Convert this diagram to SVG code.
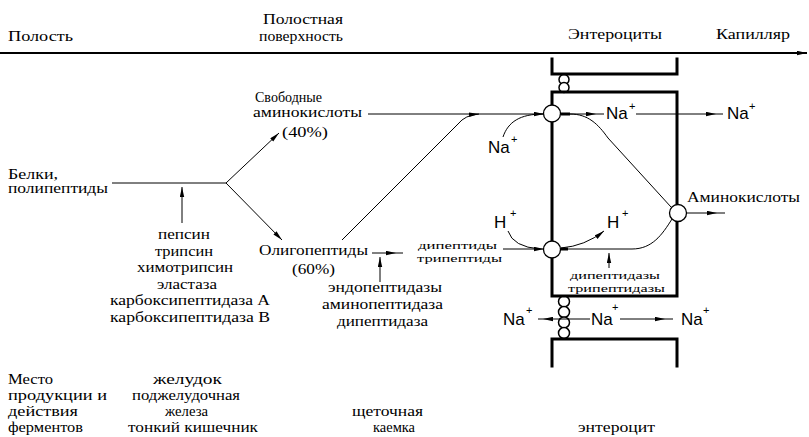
<svg xmlns="http://www.w3.org/2000/svg" width="809" height="437" viewBox="0 0 809 437">
<style>
text{font-family:"Liberation Serif","Times New Roman",serif;font-size:15px;fill:#000}
.sm{font-size:11px}
.m14{font-size:14px}
.ion{font-family:"Liberation Sans",Arial,sans-serif;font-size:17px}
.sup{font-family:"Liberation Sans",Arial,sans-serif;font-size:11px}
.ln{fill:none;stroke:#000;stroke-width:1}
.thick{fill:none;stroke:#000;stroke-width:3}
.wall{fill:none;stroke:#000;stroke-width:3;stroke-linecap:square}
.tj{fill:#fff;stroke:#000;stroke-width:1.5}
.tr{fill:#fff;stroke:#000;stroke-width:1.3}
</style>
<defs>
<marker id="ah" viewBox="0 0 10 5" refX="10" refY="2.5" markerWidth="10" markerHeight="5" markerUnits="userSpaceOnUse" orient="auto">
<path d="M0,0.3 L10,2.5 L0,4.7 z" fill="#000"/>
</marker>
</defs>
<rect width="809" height="437" fill="#fff"/>

<g id="header">
<text x="8" y="41" textLength="65" lengthAdjust="spacingAndGlyphs">Полость</text>
<text x="263" y="24" textLength="80" lengthAdjust="spacingAndGlyphs">Полостная</text>
<text x="259" y="41" textLength="84" lengthAdjust="spacingAndGlyphs">поверхность</text>
<text x="568" y="39" textLength="94" lengthAdjust="spacingAndGlyphs">Энтероциты</text>
<text x="716" y="39" textLength="74" lengthAdjust="spacingAndGlyphs">Капилляр</text>
</g>

<g id="enterocytes">
<circle class="tj" cx="564" cy="79.5" r="5"/>
<circle class="tj" cx="564" cy="87.5" r="5"/>
<circle class="tj" cx="564" cy="301.5" r="5.5"/>
<circle class="tj" cx="564" cy="312" r="5.5"/>
<circle class="tj" cx="564" cy="322.5" r="5.5"/>
<circle class="tj" cx="564" cy="333" r="5.5"/>
<path class="wall" d="M552,59 L552,74 L677,74 L677,59"/>
<path class="wall" d="M552,92 L677,92 L677,296 L552,296 Z"/>
<path class="wall" d="M552,366 L552,339 L677,339 L677,366"/>
</g>

<g id="connectors">
<path class="ln" d="M0,53 L807,53" style="stroke-width:2" marker-end="url(#ah)"/>
<path class="ln" d="M112,183 L226,183"/>
<path class="ln" d="M226,183 L279,133" marker-end="url(#ah)"/>
<path class="ln" d="M226,183 L282,240" marker-end="url(#ah)"/>
<path class="ln" d="M182,223 L182,187" marker-end="url(#ah)"/>
<path class="ln" d="M368,114 L544,114" marker-end="url(#ah)"/>
<path class="ln" d="M342,240 L458,124 Q465,115 479,114" marker-end="url(#ah)"/>
<path class="ln" d="M503,137 C508,122 520,114 543,114"/>
<path class="thick" d="M561,114 L570,114"/>
<path class="ln" d="M561,114 L596,114" marker-end="url(#ah)"/>
<path class="ln" d="M596,114 L604,114"/>
<path class="ln" d="M636,114 L716,114" marker-end="url(#ah)"/>
<path class="ln" d="M716,114 L723,114"/>
<path class="ln" d="M570,114 C588,114 598,124 608,138 L671,207"/>
<path class="ln" d="M686,213 L717,213" marker-end="url(#ah)"/>
<path class="ln" d="M717,213 L725,213"/>
<path class="ln" d="M372,253 L396,253" marker-end="url(#ah)"/>
<path class="ln" d="M396,253 L403,253"/>
<path class="ln" d="M380,282 L380,257" marker-end="url(#ah)"/>
<path class="ln" d="M503,249 L544,249" marker-end="url(#ah)"/>
<path class="ln" d="M508,231 Q513,247 540,249"/>
<path class="thick" d="M561,249 L568,249"/>
<path class="ln" d="M561,248 Q585,246 604,231" marker-end="url(#ah)"/>
<path class="ln" d="M561,249 L632,249 C652,249 662,235 672,219"/>
<path class="ln" d="M609,268 L609,253" marker-end="url(#ah)"/>
<path class="ln" d="M590,319 L543,319" marker-end="url(#ah)"/>
<path class="ln" d="M543,319 L538,319"/>
<path class="ln" d="M620,319 L665,319" marker-end="url(#ah)"/>
<path class="ln" d="M665,319 L673,319"/>
</g>

<g id="transporters">
<circle class="tr" cx="552" cy="113.5" r="8.5"/>
<circle class="tr" cx="552" cy="249.5" r="8.5"/>
<circle class="tr" cx="678" cy="213" r="8.5"/>
</g>

<g id="proteins">
<text class="m14" x="8" y="179" textLength="50" lengthAdjust="spacingAndGlyphs">Белки,</text>
<text class="m14" x="8" y="193" textLength="100" lengthAdjust="spacingAndGlyphs">полипептиды</text>
</g>

<g id="lumen-enzymes">
<text x="158" y="239" textLength="52" lengthAdjust="spacingAndGlyphs">пепсин</text>
<text x="155" y="256" textLength="58" lengthAdjust="spacingAndGlyphs">трипсин</text>
<text x="137" y="272" textLength="96" lengthAdjust="spacingAndGlyphs">химотрипсин</text>
<text x="157" y="289" textLength="60" lengthAdjust="spacingAndGlyphs">эластаза</text>
<text x="110" y="305" textLength="160" lengthAdjust="spacingAndGlyphs">карбоксипептидаза А</text>
<text x="110" y="322" textLength="160" lengthAdjust="spacingAndGlyphs">карбоксипептидаза В</text>
</g>

<g id="free-amino-acids">
<text class="m14" x="255" y="102" textLength="67" lengthAdjust="spacingAndGlyphs">Свободные</text>
<text class="m14" x="253" y="117" textLength="109" lengthAdjust="spacingAndGlyphs">аминокислоты</text>
<text x="282" y="137" textLength="46" lengthAdjust="spacingAndGlyphs">(40%)</text>
</g>

<g id="oligopeptides">
<text x="259" y="255" textLength="109" lengthAdjust="spacingAndGlyphs">Олигопептиды</text>
<text x="292" y="274" textLength="43" lengthAdjust="spacingAndGlyphs">(60%)</text>
</g>

<g id="brush-enzymes">
<text x="328" y="292" textLength="114" lengthAdjust="spacingAndGlyphs">эндопептидазы</text>
<text x="322" y="309" textLength="121" lengthAdjust="spacingAndGlyphs">аминопептидаза</text>
<text x="337" y="326" textLength="91" lengthAdjust="spacingAndGlyphs">дипептидаза</text>
</g>

<g id="di-tripeptides">
<text class="sm" x="418" y="249" textLength="79" lengthAdjust="spacingAndGlyphs">дипептиды</text>
<text class="sm" x="417" y="262" textLength="85" lengthAdjust="spacingAndGlyphs">трипептиды</text>
</g>

<g id="cell-enzymes">
<text class="sm" x="570" y="279" textLength="90" lengthAdjust="spacingAndGlyphs">дипептидазы</text>
<text class="sm" x="568" y="292" textLength="97" lengthAdjust="spacingAndGlyphs">трипептидазы</text>
</g>

<g id="amino-acids-out">
<text x="687" y="202" textLength="113" lengthAdjust="spacingAndGlyphs">Аминокислоты</text>
</g>

<g id="ions">
<text class="ion" x="606" y="119">Na</text><text class="sup" x="629" y="110">+</text>
<text class="ion" x="727" y="119">Na</text><text class="sup" x="749" y="110">+</text>
<text class="ion" x="488" y="153">Na</text><text class="sup" x="511" y="143">+</text>
<text class="ion" x="494" y="228">H</text><text class="sup" x="510" y="217">+</text>
<text class="ion" x="607" y="228">H</text><text class="sup" x="622" y="217">+</text>
<text class="ion" x="503" y="325">Na</text><text class="sup" x="526" y="314">+</text>
<text class="ion" x="591" y="325">Na</text><text class="sup" x="612" y="311">+</text>
<text class="ion" x="681" y="325">Na</text><text class="sup" x="703" y="314">+</text>
</g>

<g id="bottom-labels">
<text x="8" y="384" textLength="45" lengthAdjust="spacingAndGlyphs">Место</text>
<text x="8" y="400" textLength="99" lengthAdjust="spacingAndGlyphs">продукции и</text>
<text x="8" y="416" textLength="70" lengthAdjust="spacingAndGlyphs">действия</text>
<text x="8" y="432" textLength="75" lengthAdjust="spacingAndGlyphs">ферментов</text>
<text x="153" y="384" textLength="69" lengthAdjust="spacingAndGlyphs">желудок</text>
<text x="132" y="400" textLength="108" lengthAdjust="spacingAndGlyphs">поджелудочная</text>
<text x="165" y="416" textLength="43" lengthAdjust="spacingAndGlyphs">железа</text>
<text x="128" y="432" textLength="130" lengthAdjust="spacingAndGlyphs">тонкий кишечник</text>
<text x="352" y="416" textLength="71" lengthAdjust="spacingAndGlyphs">щеточная</text>
<text x="373" y="432" textLength="42" lengthAdjust="spacingAndGlyphs">каемка</text>
<text x="578" y="432" textLength="77" lengthAdjust="spacingAndGlyphs">энтероцит</text>
</g>
</svg>
